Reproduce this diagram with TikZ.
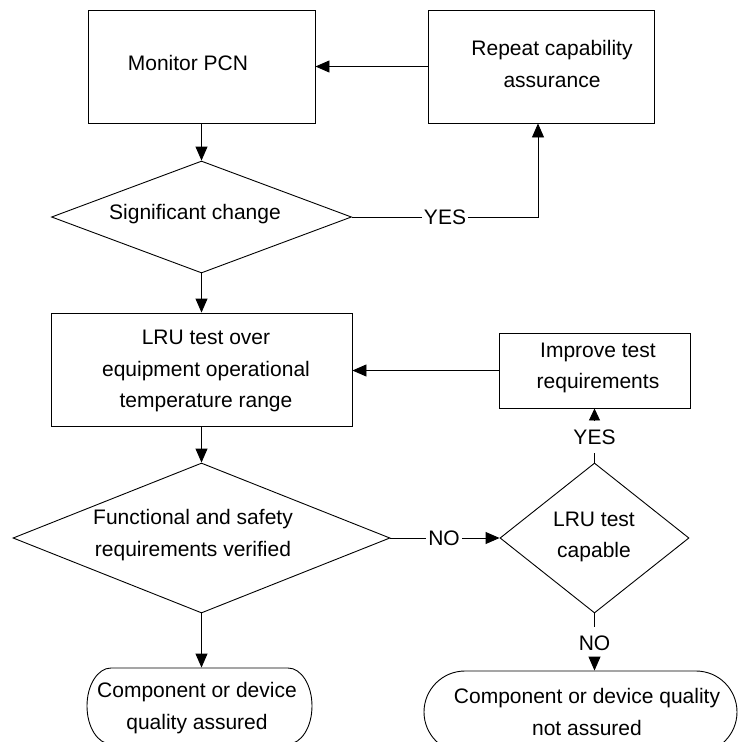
\documentclass[tikz,border=0pt]{standalone}
\usepackage{fontspec}
\setmainfont{Liberation Sans}
\usetikzlibrary{shapes.geometric,arrows.meta,calc}

\begin{document}
\begin{tikzpicture}[x=1pt,y=-1pt,line width=0.9pt,
  every node/.style={font=\fontsize{21}{31.5}\selectfont},
  flowbox/.style={draw,rectangle,inner sep=0pt},
  decision/.style={draw,diamond,inner sep=0pt},
  terminal/.style={rectangle,inner sep=0pt},
  txt/.style={align=center,inner sep=0pt},
  tag/.style={inner xsep=2pt,inner ysep=8pt,text height=15pt,text depth=0pt},
  flow/.style={-{Triangle[length=14pt,width=12pt]}},
  smallflow/.style={-{Triangle[length=12pt,width=11pt]}}]

\useasboundingbox (0,0) rectangle (738,742);
\clip (0,0) rectangle (738,742);

% process boxes
\node[flowbox,minimum width=227pt,minimum height=113pt] (mon) at (201.5,66.5) {};
\node[flowbox,minimum width=226pt,minimum height=113pt] (rep) at (541,66.5) {};
\node[flowbox,minimum width=301pt,minimum height=113pt] (lru) at (201.5,369.5) {};
\node[flowbox,minimum width=191pt,minimum height=75pt] (imp) at (594.5,370.5) {};

% decisions
\node[decision,minimum width=300pt,minimum height=112pt] (d1) at (201.5,217) {};
\node[decision,minimum width=377pt,minimum height=150pt] (d2) at (201.5,538) {};
\node[decision,minimum width=189pt,minimum height=150pt] (d3) at (594.5,538) {};

% terminals (outlines drawn below)
\node[terminal,minimum width=225pt,minimum height=76pt] (b1) at (199.5,706) {};
\node[terminal,minimum width=313pt,minimum height=82pt] (b2) at (580.5,712) {};
\draw (111,668) -- (288,668)
  arc[start angle=90,end angle=-90,x radius=24pt,y radius=38pt]
  -- (111,744)
  arc[start angle=270,end angle=90,x radius=24pt,y radius=38pt] -- cycle;
\draw (465,671) -- (696,671)
  arc[start angle=90,end angle=-90,radius=41pt]
  -- (465,753)
  arc[start angle=270,end angle=90,radius=41pt] -- cycle;

% texts
\node[txt] (tmon) at (188,63) {Monitor PCN};
\node[txt] (trep) at (552,64) {Repeat capability\\assurance};
\node[txt] (td1) at (195,214) {Significant change};
\node[txt] (tlru) at (206,371) {LRU test over\\equipment operational\\temperature range};
\node[txt] (timp) at (598,368) {Improve test\\requirements};
\node[txt] (td2) at (193,535) {Functional and safety\\requirements verified};
\node[txt] (td3) at (594,537) {LRU test\\capable};
\node[txt] (tb1) at (197,708) {Component or device\\quality assured};
\node[txt] (tb2) at (587,712) {Component or device quality\\not assured};

% branch labels
\node[tag] (yes1) at (445,217) {YES};
\node[tag] (no1) at (444,538) {NO};
\node[tag] (yes2) at (594.5,437) {YES};
\node[tag] (no2) at (594.5,643) {NO};
\coordinate (yc) at (538,217);

% connectors
\draw[flow] (rep.west) -- (mon.east);
\draw[flow] (mon.south) -- (d1.north);
\draw (d1.east) -- (yes1.west);
\draw[flow] (yes1.east) -- (yc) -- (yc |- rep.south);
\draw[flow] (d1.south) -- (lru.north);
\draw[flow] (imp.west) -- (imp.west -| lru.east);
\draw[flow] (lru.south) -- (d2.north);
\draw (d2.east) -- (no1.west);
\draw[flow] (no1.east) -- (d3.west);
\draw (d3.north) -- (yes2.south);
\draw[smallflow] (yes2.north) -- (imp.south);
\draw (d3.south) -- (no2.north);
\draw[flow] (no2.south) -- (no2.south |- b2.north);
\draw[flow] (d2.south) -- (d2.south |- b1.north);
\end{tikzpicture}
\end{document}
